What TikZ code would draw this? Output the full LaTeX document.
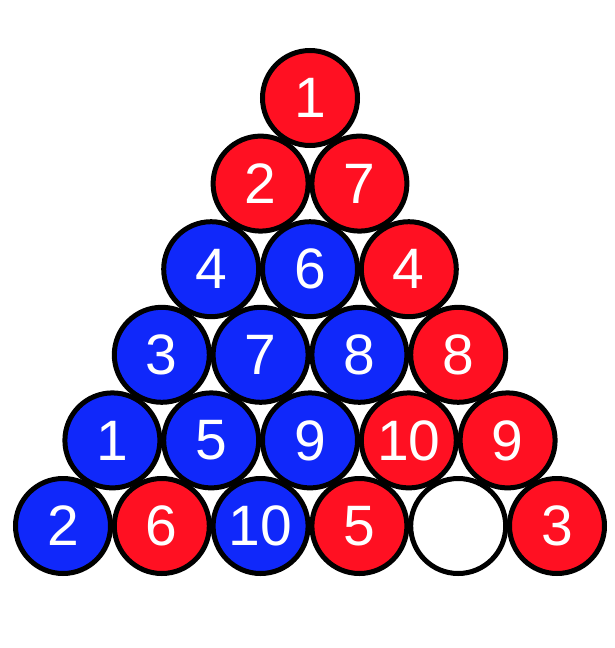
\documentclass[tikz,border=0pt]{standalone}
\usepackage{fontspec}
\setmainfont{Liberation Sans}
\definecolor{ballred}{RGB}{255,16,34}
\definecolor{ballblue}{RGB}{16,40,250}
\tikzset{
  ball/.style={circle,draw=black,line width=5pt,minimum size=95pt,inner sep=0pt,
    text=white,font=\fontsize{57}{60}\selectfont},
}

\begin{document}
\begin{tikzpicture}[x=1pt,y=-1pt]
  \useasboundingbox (0,0) rectangle (614,648);
  % row/position/colour/number
  \foreach \r/\k/\c/\n in {0/0/ballred/1,
      1/0/ballred/2, 1/1/ballred/7,
      2/0/ballblue/4, 2/1/ballblue/6, 2/2/ballred/4,
      3/0/ballblue/3, 3/1/ballblue/7, 3/2/ballblue/8, 3/3/ballred/8,
      4/0/ballblue/1, 4/1/ballblue/5, 4/2/ballblue/9, 4/3/ballred/10, 4/4/ballred/9,
      5/0/ballblue/2, 5/1/ballred/6, 5/2/ballblue/10, 5/3/ballred/5, 5/4/white/{}, 5/5/ballred/3}
    \node[ball,fill=\c] (b\r\k) at ({310-49.4*\r+98.8*\k},{98+85.6*\r}) {\n};
\end{tikzpicture}
\end{document}
